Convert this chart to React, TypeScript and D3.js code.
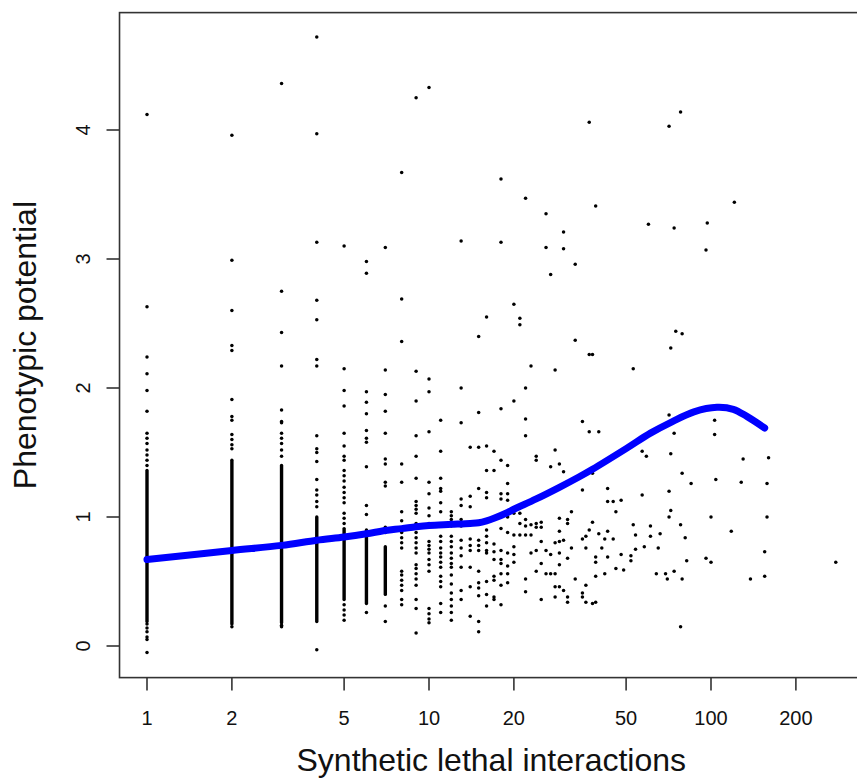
import React from 'react';
import * as d3 from 'd3';

const W = 857;
const H = 779;

const xTicks = [1, 2, 5, 10, 20, 50, 100, 200];
const yTicks = [0, 1, 2, 3, 4];
const xLabel = 'Synthetic lethal interactions';
const yLabel = 'Phenotypic potential';

// plot limits (R-style 4% extension)
const xLim = [0.799, 346];
const yLim = [-0.245, 4.91];

// individual points: [synthetic lethal interactions, phenotypic potential values]
const sparsePoints: [number, number[]][] = [
  [1, [4.12, 2.63, 2.24, 2.11, 1.98, 1.82, 1.65, 1.61, 1.57, 1.52, 1.48, 1.44, 1.40, 0.17, 0.14, 0.11, 0.07, 0.05, -0.05]],
  [2, [3.96, 2.99, 2.60, 2.33, 2.29, 1.91, 1.78, 1.75, 1.64, 1.60, 1.56, 1.53, 0.15]],
  [3, [4.36, 2.75, 2.43, 2.17, 1.83, 1.74, 1.73, 1.65, 1.61, 1.57, 1.52, 1.47, 0.16, 0.15]],
  [4, [4.72, 3.97, 3.13, 2.68, 2.53, 2.22, 2.17, 1.63, 1.53, 1.50, 1.43, 1.29, 1.21, 1.17, 1.12, 1.08, -0.03]],
  [5, [3.10, 2.15, 1.98, 1.86, 1.65, 1.55, 1.47, 1.44, 1.36, 1.32, 1.28, 1.23, 1.19, 1.15, 1.11, 1.03, 0.99, 0.95, 0.32, 0.28, 0.24, 0.20]],
  [6, [2.98, 2.89, 1.97, 1.89, 1.80, 1.67, 1.61, 1.58, 1.39, 1.09, 1.02, 0.26]],
  [7, [3.09, 2.14, 1.95, 1.82, 1.65, 1.45, 1.41, 1.27, 1.24, 0.92, 0.88, 0.31, 0.19]],
  [8, [3.67, 2.69, 2.36, 1.41, 1.27, 1.04, 0.97, 0.88, 0.84, 0.80, 0.76, 0.58, 0.55, 0.51, 0.47, 0.43, 0.36, 0.32]],
  [9, [4.25, 2.13, 1.90, 1.63, 1.47, 1.30, 1.12, 1.09, 1.06, 1.03, 0.95, 0.92, 0.88, 0.84, 0.80, 0.76, 0.72, 0.63, 0.60, 0.56, 0.52, 0.47, 0.36, 0.29, 0.10]],
  [10, [4.33, 2.07, 1.97, 1.66, 1.27, 1.18, 1.07, 1.01, 0.95, 0.81, 0.78, 0.75, 0.72, 0.67, 0.63, 0.58, 0.29, 0.25, 0.21, 0.18]],
  [11, [1.75, 1.51, 1.30, 1.22, 1.20, 1.11, 1.04, 0.85, 0.81, 0.76, 0.72, 0.69, 0.65, 0.61, 0.54, 0.50, 0.46, 0.33, 0.26]],
  [12, [1.04, 1.01, 0.98, 0.93, 0.85, 0.81, 0.77, 0.72, 0.68, 0.64, 0.61, 0.55, 0.48, 0.41, 0.36, 0.31, 0.26, 0.20]],
  [13, [3.14, 2.00, 1.73, 1.14, 1.09, 0.98, 0.93, 0.82, 0.76, 0.70, 0.61, 0.43, 0.36]],
  [14, [1.54, 1.16, 1.08, 0.83, 0.78, 0.74, 0.61, 0.46, 0.23]],
  [15, [2.40, 1.81, 1.54, 1.22, 0.82, 0.78, 0.74, 0.58, 0.49, 0.45, 0.39, 0.19, 0.11]],
  [16, [2.55, 1.55, 1.36, 1.19, 1.15, 0.90, 0.85, 0.80, 0.74, 0.72, 0.50, 0.40, 0.31]],
  [17, [1.51, 1.36, 0.79, 0.73, 0.67, 0.54, 0.51, 0.38, 0.36]],
  [18, [3.62, 3.13, 1.84, 1.44, 1.18, 1.14, 0.91, 0.74, 0.67, 0.64, 0.56, 0.47, 0.32]],
  [19, [1.40, 1.26, 1.18, 1.13, 1.00, 0.88, 0.72, 0.62, 0.56, 0.49]],
  [20, [2.65, 1.90, 1.03, 0.86, 0.77, 0.71, 0.65]],
  [21, [2.54, 2.49, 1.03, 0.95, 0.86]],
  [22, [3.47, 2.00, 1.76, 1.63, 0.98, 0.93, 0.86, 0.52, 0.42]],
  [23, [2.17, 0.94, 0.86, 0.72]],
  [24, [1.47, 1.44, 0.95, 0.92, 0.74, 0.58]],
  [25, [0.96, 0.92, 0.81, 0.64, 0.36]],
  [26, [3.35, 3.09, 0.74, 0.56]],
  [27, [2.88, 1.39, 0.71, 0.56]],
  [28, [2.14, 1.52, 0.80, 0.56, 0.46, 0.38]],
  [29, [1.41, 0.99, 0.89, 0.81, 0.72, 0.63, 0.46]],
  [30, [3.21, 3.08, 1.35, 0.82, 0.43]],
  [31, [0.98, 0.95, 0.68, 0.38, 0.34]],
  [32, [1.04, 0.76]],
  [33, [2.96, 2.37, 0.52]],
  [35, [1.74, 1.21, 0.83, 0.41, 0.38]],
  [36, [0.85, 0.76, 0.47, 0.34]],
  [37, [4.06, 2.26, 1.66, 0.90]],
  [38, [2.26, 1.34, 0.96, 0.33]],
  [39, [3.41, 0.69, 0.65, 0.54, 0.34]],
  [40, [1.66, 0.87]],
  [41, [0.76]],
  [42, [0.83, 0.56]],
  [43, [1.22, 1.12, 0.89, 0.69]],
  [45, [1.12, 0.83]],
  [46, [1.04, 0.60]],
  [48, [1.13, 0.71]],
  [49, [0.59]],
  [52, [0.70, 0.66]],
  [53, [2.15, 0.94]],
  [54, [0.86, 0.75]],
  [57, [1.51, 1.17]],
  [58, [0.77]],
  [59, [1.47]],
  [60, [3.27]],
  [61, [0.93, 0.85]],
  [64, [0.56]],
  [65, [0.76]],
  [66, [0.87]],
  [69, [0.56]],
  [70, [0.52]],
  [71, [4.03, 1.79, 1.20, 1.00]],
  [72, [2.31, 1.49, 1.05]],
  [74, [3.24, 1.65, 0.58]],
  [75, [2.44]],
  [78, [4.14, 0.94, 0.15]],
  [79, [2.42, 1.34, 0.52]],
  [81, [0.84]],
  [82, [0.66]],
  [85, [1.26]],
  [96, [3.07, 0.68]],
  [97, [3.28]],
  [100, [1.00, 0.65]],
  [103, [1.75, 1.64]],
  [104, [1.29]],
  [118, [0.89]],
  [121, [3.44]],
  [128, [1.27]],
  [130, [1.45]],
  [138, [0.52]],
  [155, [0.73, 0.54]],
  [158, [1.26, 1.00]],
  [160, [1.46]],
  [277, [0.65]],
];

// stretches where points overlap into a solid column: [x, from, to]
const denseRuns: [number, number, number][] = [
  [1, 0.19, 1.36],
  [2, 0.17, 1.44],
  [3, 0.18, 1.40],
  [4, 0.19, 1.00],
  [5, 0.36, 0.91],
  [6, 0.33, 0.90],
  [7, 0.40, 0.77],
];

// lowess fit
const lowessX = [1, 2, 3, 4, 5, 6, 7, 8, 9, 10, 12, 14, 15, 16, 17, 19, 20, 24, 29, 34, 38, 50, 61, 73, 87, 105, 120, 134, 155];
const lowessY = [0.67, 0.74, 0.78, 0.82, 0.845, 0.87, 0.895, 0.91, 0.925, 0.935, 0.943, 0.95, 0.955, 0.97, 0.99, 1.035, 1.06, 1.14, 1.23, 1.31, 1.37, 1.53, 1.65, 1.74, 1.815, 1.85, 1.835, 1.78, 1.69];

const FONT = '"Liberation Sans", Arial, Helvetica, sans-serif';

export default function App() {
  const x = d3.scaleLog().domain([1, 100]).range([147, 711]);
  const y = d3.scaleLinear().domain([0, 4]).range([646, 130]);

  const left = x(xLim[0]);
  const right = x(xLim[1]);
  const top = y(yLim[1]);
  const bottom = y(yLim[0]);

  const line = d3
    .line<number>()
    .x((_, i) => x(lowessX[i]))
    .y((d) => y(d))
    .curve(d3.curveCatmullRom.alpha(0.5));

  const pts: { cx: number; cy: number; k: string }[] = [];
  sparsePoints.forEach(([xv, ys]) =>
    ys.forEach((yv, j) => pts.push({ cx: x(xv), cy: y(yv), k: `${xv}-${j}` }))
  );

  return (
    <svg
      width={W}
      height={H}
      style={{ position: 'absolute', left: 0, top: 0, background: '#fff' }}
      fontFamily={FONT}
    >
      <rect x={0} y={0} width={W} height={H} fill="#fff" />
      {denseRuns.map(([xv, a, b]) => (
        <rect
          key={`r${xv}`}
          x={x(xv) - 1.7}
          y={y(b) - 1.7}
          width={3.4}
          height={y(a) - y(b) + 3.4}
          rx={1.7}
          fill="#000"
        />
      ))}
      {pts.map((p) => (
        <circle key={p.k} cx={p.cx} cy={p.cy} r={1.75} fill="#000" />
      ))}
      <path
        d={line(lowessY) || ''}
        fill="none"
        stroke="#0000ff"
        strokeWidth={7}
        strokeLinecap="round"
        strokeLinejoin="round"
      />
      {/* box */}
      <rect
        x={left}
        y={top}
        width={right - left}
        height={bottom - top}
        fill="none"
        stroke="#333"
        strokeWidth={1.6}
      />
      {/* x axis */}
      {xTicks.map((t) => (
        <g key={`xt${t}`}>
          <line x1={x(t)} x2={x(t)} y1={bottom} y2={bottom + 13} stroke="#333" strokeWidth={1.6} />
          <text x={x(t)} y={725} textAnchor="middle" fontSize={20} fill="#111">
            {t}
          </text>
        </g>
      ))}
      {/* y axis */}
      {yTicks.map((t) => (
        <g key={`yt${t}`}>
          <line x1={left - 13} x2={left} y1={y(t)} y2={y(t)} stroke="#333" strokeWidth={1.6} />
          <text
            transform={`translate(90,${y(t)}) rotate(-90)`}
            textAnchor="middle"
            fontSize={20}
            fill="#111"
          >
            {t}
          </text>
        </g>
      ))}
      <text x={(left + right) / 2} y={771} textAnchor="middle" fontSize={32} fill="#111">
        {xLabel}
      </text>
      <text
        transform={`translate(36,${(top + bottom) / 2}) rotate(-90)`}
        textAnchor="middle"
        fontSize={32}
        fill="#111"
      >
        {yLabel}
      </text>
    </svg>
  );
}
